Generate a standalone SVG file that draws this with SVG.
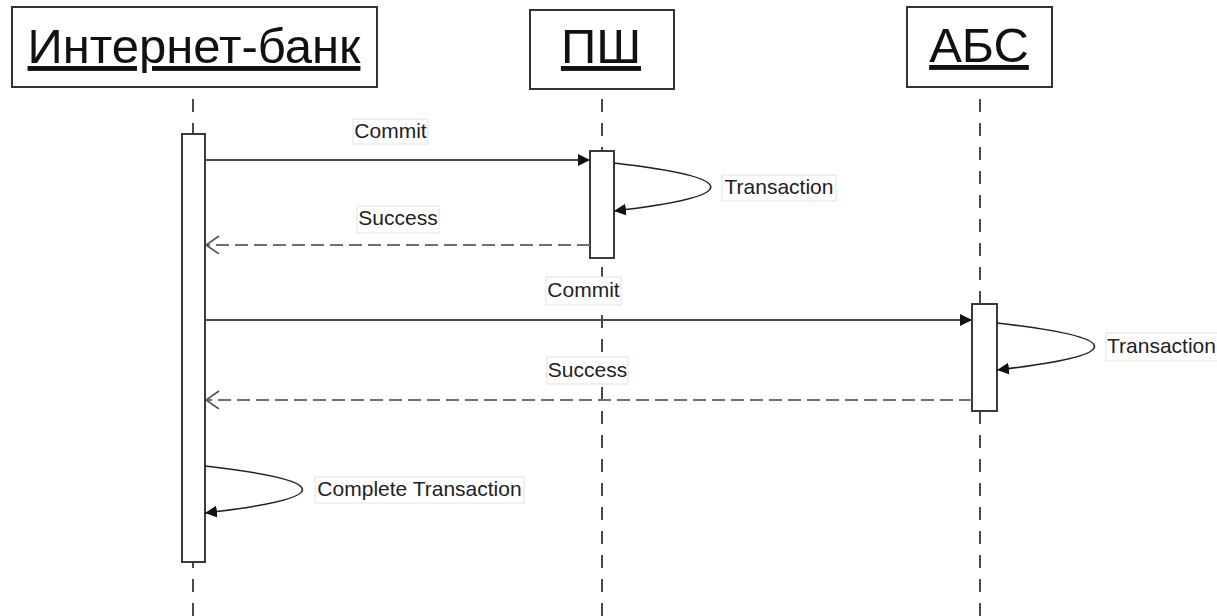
<svg xmlns="http://www.w3.org/2000/svg" width="1217" height="616" viewBox="0 0 1217 616">
  <style>
    .actor { fill: #ffffff; stroke: #333333; stroke-width: 2; }
    .actor-label { font-family: "Liberation Sans", Arial, sans-serif; font-size: 49px; fill: #111111; text-anchor: middle; text-decoration: underline; }
    .lifeline { stroke: #4a4a4a; stroke-width: 2; stroke-dasharray: 13 11; stroke-dashoffset: 12; fill: none; }
    .activation { fill: #ffffff; stroke: #3a3a3a; stroke-width: 2; }
    .call { stroke: #4a4a4a; stroke-width: 2; fill: none; }
    .reply { stroke: #707070; stroke-width: 2; stroke-dasharray: 13 6; fill: none; }
    .self { stroke: #222222; stroke-width: 1.6; fill: none; }
    .tag { fill: #ffffff; stroke: #e2e2e2; stroke-width: 1; }
    .msg { font-family: "Liberation Sans", Arial, sans-serif; font-size: 21px; fill: #222222; }
  </style>
  <defs>
    <marker id="solidHead" markerUnits="userSpaceOnUse" markerWidth="13" markerHeight="13" refX="12" refY="6" orient="auto">
      <path d="M0,0 L12,6 L0,12 Z" fill="#111111"/>
    </marker>
    <marker id="openHead" markerUnits="userSpaceOnUse" markerWidth="16" markerHeight="20" refX="14" refY="9" orient="auto">
      <path d="M1,0 L14,9 L1,18" fill="none" stroke="#555555" stroke-width="1.6"/>
    </marker>
  </defs>

  <rect width="1217" height="616" fill="#ffffff"/>

  <!-- lifelines -->
  <g id="lifelines">
    <line class="lifeline" x1="193" y1="87" x2="193" y2="616"/>
    <line class="lifeline" x1="602" y1="87" x2="602" y2="616"/>
    <line class="lifeline" x1="980" y1="87" x2="980" y2="616"/>
  </g>

  <!-- participants -->
  <g id="internet-bank">
    <rect class="actor" x="12" y="7" width="365" height="80"/>
    <text class="actor-label" x="194" y="63">Интернет-банк</text>
    <rect class="activation" x="182" y="134" width="23" height="428"/>
  </g>
  <g id="psh">
    <rect class="actor" x="530" y="10" width="144" height="79"/>
    <text class="actor-label" x="601" y="63">ПШ</text>
    <rect class="activation" x="590" y="151" width="24" height="107"/>
  </g>
  <g id="abs">
    <rect class="actor" x="907" y="7" width="145" height="80"/>
    <text class="actor-label" x="979" y="62">АБС</text>
    <rect class="activation" x="972" y="304" width="25" height="107"/>
  </g>

  <!-- messages -->
  <g id="connectors">
    <line class="call" x1="205" y1="160" x2="590" y2="160" marker-end="url(#solidHead)"/>
    <path class="self" d="M614,163 C743,178 743,196 614,211" marker-end="url(#solidHead)"/>
    <line class="reply" x1="590" y1="245" x2="206" y2="245" marker-end="url(#openHead)"/>
    <line class="call" x1="205" y1="320" x2="972" y2="320" marker-end="url(#solidHead)"/>
    <path class="self" d="M997,323 C1127,338 1127,355 997,370" marker-end="url(#solidHead)"/>
    <line class="reply" x1="972" y1="400" x2="206" y2="400" marker-end="url(#openHead)"/>
    <path class="self" d="M205,466 C335,481 335,498 205,513" marker-end="url(#solidHead)"/>
  </g>

  <!-- message labels -->
  <g id="labels">
    <rect class="tag" x="353" y="119" width="75" height="25"/>
    <text class="msg" x="390.5" y="138" text-anchor="middle">Commit</text>
    <rect class="tag" x="722" y="175" width="114" height="26"/>
    <text class="msg" x="779" y="194" text-anchor="middle">Transaction</text>
    <rect class="tag" x="357" y="206" width="82" height="27"/>
    <text class="msg" x="398" y="225" text-anchor="middle">Success</text>
    <rect class="tag" x="546" y="277" width="75" height="28"/>
    <text class="msg" x="583.5" y="297" text-anchor="middle">Commit</text>
    <rect class="tag" x="1106" y="333" width="115" height="28"/>
    <text class="msg" x="1107" y="353">Transaction</text>
    <rect class="tag" x="547" y="357" width="81" height="27"/>
    <text class="msg" x="587.5" y="377" text-anchor="middle">Success</text>
    <rect class="tag" x="315" y="477" width="209" height="26"/>
    <text class="msg" x="419.5" y="496" text-anchor="middle">Complete Transaction</text>
  </g>
</svg>
